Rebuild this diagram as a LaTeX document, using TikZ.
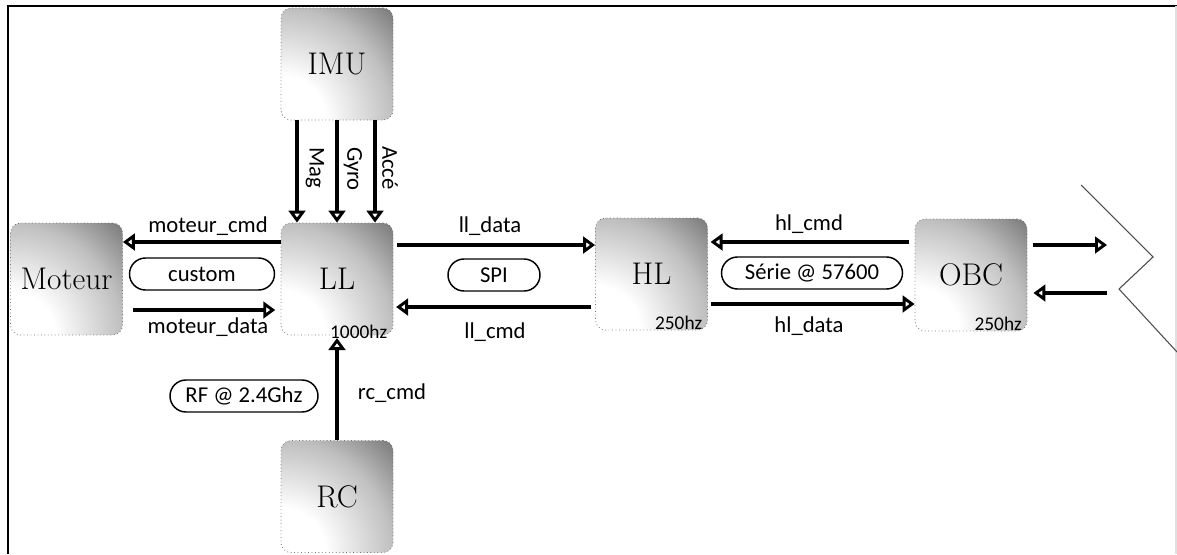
\documentclass[tikz,border=0pt]{standalone}
\usepackage{fontspec}
\newfontfamily\labelfont{Carlito}
\usetikzlibrary{arrows.meta,shapes.misc}
% radial fill: white near the centre, darkening outward (100bp convention)
\pgfdeclareradialshading{boxshade}{\pgfpoint{0bp}{0bp}}{%
  color(0bp)=(white); color(7bp)=(white); color(17.6bp)=(black!25);
  color(25bp)=(black!53); color(50bp)=(black!53)}

\begin{document}
\begin{tikzpicture}[x=0.75pt,y=-0.75pt,
  block/.style={rounded corners=7.5pt, minimum width=84pt, minimum height=84pt,
    inner sep=0pt, draw=black!55, dotted, line width=0.6pt,
    path picture={\shade[shading=boxshade]
      (path picture bounding box.south west) circle[radius=119pt];},
    text=black, font=\fontsize{23.5}{27}\selectfont},
  lab/.style={font=\labelfont\fontsize{17}{20}\selectfont, inner sep=0pt},
  freq/.style={font=\labelfont\fontsize{14.5}{17}\selectfont, inner sep=0pt},
  pill/.style={rounded rectangle, draw, line width=1.1pt, minimum height=24pt,
    inner sep=0pt, font=\labelfont\fontsize{17}{20}\selectfont},
  arr/.style={line width=2.4pt,
    -{Triangle[open, length=9pt, width=12.5pt, line width=2.2pt]}},
  zig/.style={draw=black!70, line width=0.8pt},
  frame/.style={line width=1.6pt}]

\useasboundingbox (0,0) rectangle (1177,554);

% outer frame
\draw[frame] (8,554) -- (8,6) -- (1177,6);
\draw[black!12, line width=1pt] (1176,6) -- (1176,554);

% blocks
\node[block] (IMU)    at (337,64)    {IMU};
\node[block] (LL)     at (337,279)   {LL};
\node[block] (Moteur) at (66.5,279)  {Moteur};
\node[block] (HL)     at (651.5,274) {HL};
\node[block] (OBC)    at (971,275)   {OBC};
\node[block] (RC)     at (337,496.5) {RC};

% loop rates
\node[freq, anchor=base east] (fLL)  at ([xshift=-4.5pt,yshift=-2pt]LL.south east)  {1000hz};
\node[freq, anchor=base east] (fHL)  at ([xshift=-4pt,yshift=1pt]HL.south east)  {250hz};
\node[freq, anchor=base east] (fOBC) at ([xshift=-4pt,yshift=1pt]OBC.south east) {250hz};

% IMU -> LL
\draw[arr] (IMU.south -| 297,0) -- (LL.north -| 297,0);
\draw[arr] (IMU.south -| 337,0) -- (LL.north -| 337,0);
\draw[arr] (IMU.south -| 375,0) -- (LL.north -| 375,0);
\node[lab, rotate=-90] (lMag)  at (315,168) {Mag};
\node[lab, rotate=-90] (lGyro) at (353,169) {Gyro};
\node[lab, rotate=-90] (lAcc)  at (390,168) {Accé};

% LL <-> Moteur
\draw[arr] (LL.west |- 0,242) -- (Moteur.east |- 0,242);
\draw[arr, shorten <=7.5pt, shorten >=4pt] (Moteur.east |- 0,310) -- (LL.west |- 0,310);
\node[lab] (lmc) at (208,226) {moteur\_cmd};
\node[lab] (lmd) at (208,327) {moteur\_data};
\node[pill, minimum width=108.75pt] (pcustom) at (202,274) {custom};

% LL <-> HL
\draw[arr, shorten <=3pt] (LL.east |- 0,245) -- (HL.west |- 0,245);
\draw[arr, shorten <=3pt, shorten >=2pt] (HL.west |- 0,307) -- (LL.east |- 0,307);
\node[lab] (lld) at (490,226) {ll\_data};
\node[lab] (llc) at (495,332) {ll\_cmd};
\node[pill, minimum width=69pt] (pspi) at (494,275) {SPI};

% HL <-> OBC
\draw[arr, shorten <=4pt, shorten >=2pt] (OBC.west |- 0,242) -- (HL.east |- 0,242);
\draw[arr, shorten <=2pt] (HL.east |- 0,304) -- (OBC.west |- 0,304);
\node[lab] (lhc) at (809,224) {hl\_cmd};
\node[lab] (lhd) at (809,326) {hl\_data};
\node[pill, minimum width=135.75pt] (pserie) at (812,273) {Série @ 57600};

% OBC <-> outside
\coordinate (out) at (1107,245);
\coordinate (in)  at (1107,293);
\draw[arr, shorten <=4.5pt] (OBC.east |- out) -- (out);
\draw[arr, shorten >=4.5pt] (in) -- (OBC.east |- in);
\draw[zig] (1081,185) -- (1153,257) -- (1119,289) -- (1177,352);

% RC -> LL
\draw[arr, shorten >=2pt] (RC.north) -- (LL.south);
\node[lab] (lrc) at (392,393) {rc\_cmd};
\node[pill, minimum width=111pt] (prf) at (244,396) {RF @ 2.4Ghz};

\end{tikzpicture}
\end{document}
